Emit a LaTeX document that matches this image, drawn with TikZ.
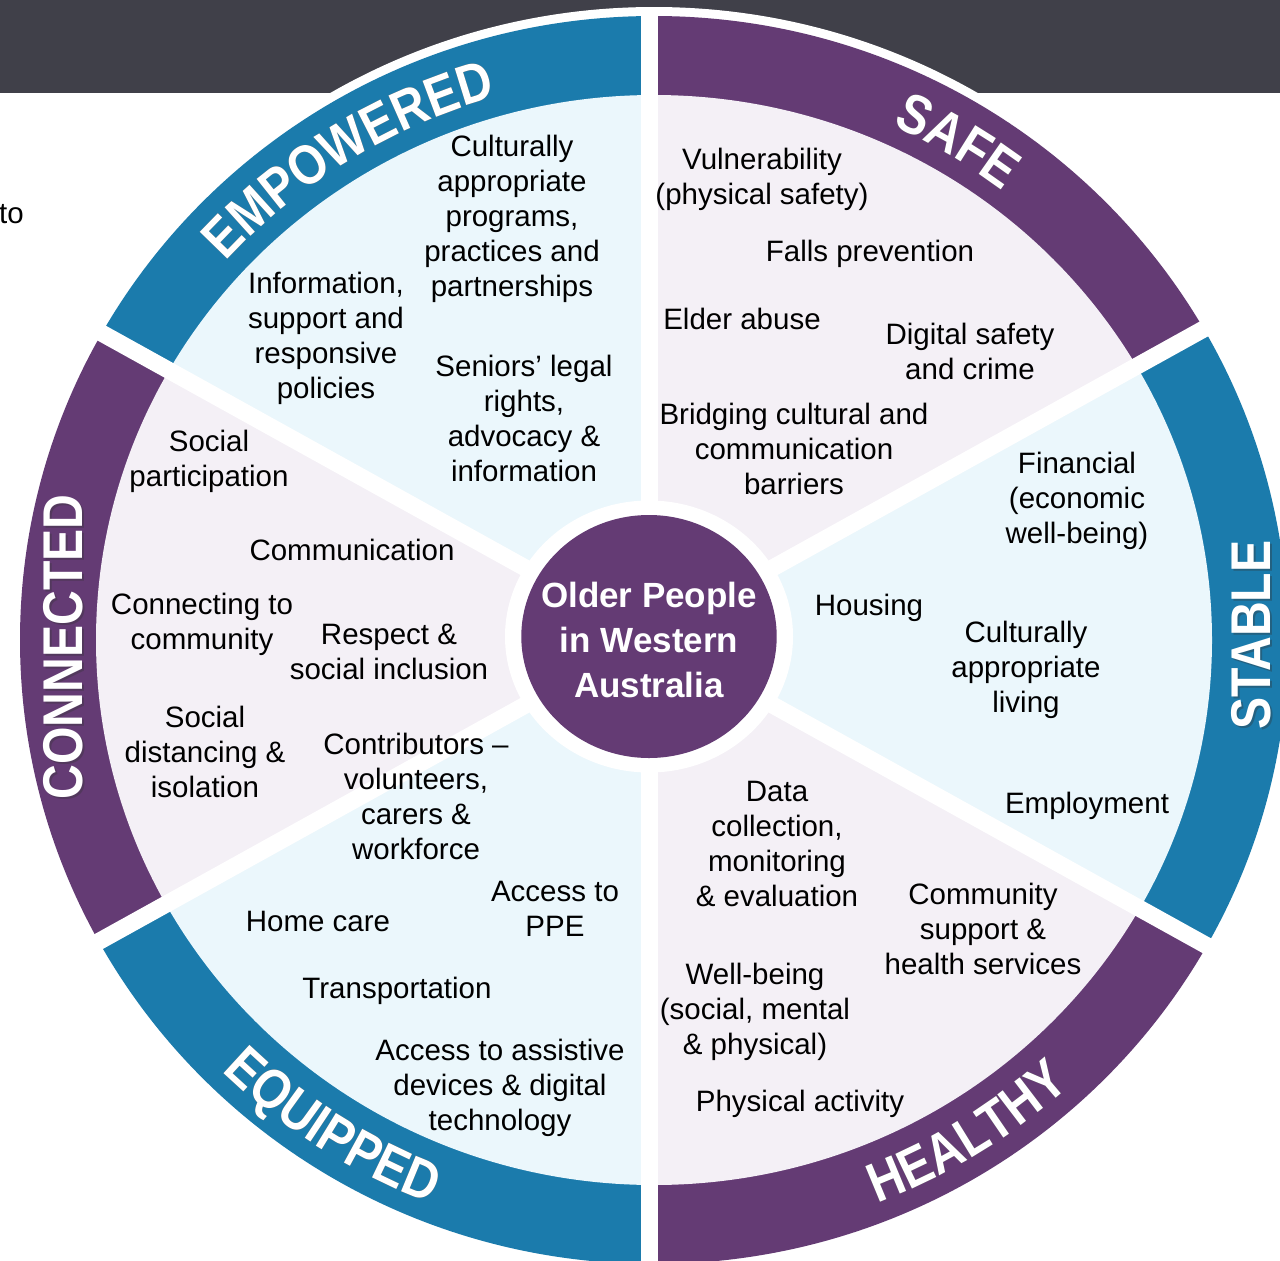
\documentclass[tikz,border=0pt]{standalone}
\usepackage{fontspec}
\setmainfont{Liberation Sans}
\newfontfamily\bandfont[FakeStretch=0.86]{Liberation Sans}
\usetikzlibrary{decorations.text}

\definecolor{ringblue}{RGB}{27,123,172}
\definecolor{ringpurple}{RGB}{100,59,116}
\definecolor{lightblue}{RGB}{235,247,252}
\definecolor{lightpurple}{RGB}{244,240,246}
\definecolor{darkbar}{RGB}{64,64,73}

\newcommand\bandface{\bandfont\bfseries\fontsize{56}{60}\selectfont}

\tikzset{
  item/.style={align=center, font=\fontsize{29.5}{35}\selectfont, inner sep=0pt,
               execute at begin node=\strut, execute at end node=\strut, yshift=-3.5pt},
  band/.style={font=\bandface, text=white, inner sep=0pt},
  bandtext/.style={decorate, decoration={text along path, text align=center, text color=white}},
  bandshadow/.style={decorate, decoration={text along path, text align=center, text color=black!80}, opacity=.35},
}

\begin{document}
\begin{tikzpicture}[x=1pt,y=1pt]
  \useasboundingbox (0,0) rectangle (1280,-1261);
  \coordinate (hub) at (649,-636.5);
  \coordinate (rim) at (654,-640);
  %
  \fill[darkbar] (0,0) rectangle (1280,-93);
  \fill[white] (rim) ellipse [x radius=643pt, y radius=633pt];
  % outer band
  \begin{scope}
    \clip (rim) ellipse [x radius=634pt, y radius=624pt];
    \foreach \a/\b/\c in {29/90/ringpurple,90/151/ringblue,151/209/ringpurple,
                          209/270/ringblue,270/331/ringpurple,331/389/ringblue}
             {\fill[\c] (hub) -- +(\a:1500pt) -- +(\b:1500pt) -- cycle;}
  \end{scope}
  % inner sectors
  \begin{scope}
    \clip (rim) ellipse [x radius=558pt, y radius=545pt];
    \foreach \a/\b/\c in {29/90/lightpurple,90/151/lightblue,151/209/lightpurple,
                          209/270/lightblue,270/331/lightpurple,331/389/lightblue}
             {\fill[\c] (hub) -- +(\a:1500pt) -- +(\b:1500pt) -- cycle;}
  \end{scope}
  % gaps
  \begin{scope}
    \clip (rim) ellipse [x radius=643pt, y radius=633pt];
    \foreach \a in {29,90,151,209,270,331}
             {\draw[white, line width=17pt] (hub) -- +(\a:700pt);}
  \end{scope}
  \fill[white] (hub) ellipse [x radius=144pt, y radius=136pt];
  \fill[ringpurple] (hub) ellipse [x radius=127.7pt, y radius=121.5pt];
  \node[align=center, text=white, inner sep=0pt,
        font=\bfseries\fontsize{35}{45}\selectfont] (hubtext) at (649,-640)
        {Older People\\in Western\\Australia};
  %
  % band labels
  \path[bandshadow, decoration={text={|\bandface|EMPOWERED}}, shift={(2pt,-2pt)}]
    (rim) ++(152:576pt and 564.5pt) arc[start angle=152, end angle=92, x radius=576pt, y radius=564.5pt];
  \path[bandtext, decoration={text={|\bandface|EMPOWERED}}]
    (rim) ++(152:576pt and 564.5pt) arc[start angle=152, end angle=92, x radius=576pt, y radius=564.5pt];
  \path[bandshadow, decoration={text={|\bandface|SAFE}}, shift={(2pt,-2pt)}]
    (rim) ++(89:576pt and 564.5pt) arc[start angle=89, end angle=29, x radius=576pt, y radius=564.5pt];
  \path[bandtext, decoration={text={|\bandface|SAFE}}]
    (rim) ++(89:576pt and 564.5pt) arc[start angle=89, end angle=29, x radius=576pt, y radius=564.5pt];
  \path[bandshadow, decoration={text={|\bandface|HEALTHY}}, shift={(2pt,-2pt)}]
    (rim) ++(-88:616pt and 604.5pt) arc[start angle=-88, end angle=-28, x radius=616pt, y radius=604.5pt];
  \path[bandtext, decoration={text={|\bandface|HEALTHY}}]
    (rim) ++(-88:616pt and 604.5pt) arc[start angle=-88, end angle=-28, x radius=616pt, y radius=604.5pt];
  \path[bandshadow, decoration={text={|\bandface|EQUIPPED}}, shift={(2pt,-2pt)}]
    (rim) ++(207:616pt and 604.5pt) arc[start angle=207, end angle=267, x radius=616pt, y radius=604.5pt];
  \path[bandtext, decoration={text={|\bandface|EQUIPPED}}]
    (rim) ++(207:616pt and 604.5pt) arc[start angle=207, end angle=267, x radius=616pt, y radius=604.5pt];
  \node[band, rotate=90, text=black!80, text opacity=.35] (connectedshade) at (65,-649) {CONNECTED};
  \node[band, rotate=90] (connected) at (63,-647) {CONNECTED};
  \node[band, rotate=90, text=black!80, text opacity=.35] (stableshade) at (1253,-637) {STABLE};
  \node[band, rotate=90] (stable) at (1251,-635) {STABLE};
  %
  % empowered
  \node[item] (cultprog) at (512,-217.5) {Culturally\\appropriate\\programs,\\practices and\\partnerships};
  \node[item] (infopol) at (326,-337) {Information,\\support and\\responsive\\policies};
  \node[item] (legal) at (524,-420.5) {Seniors’ legal\\rights,\\advocacy \&\\information};
  % safe
  \node[item] (vulner) at (762,-178.5) {Vulnerability\\(physical safety)};
  \node[item] (falls) at (870,-251) {Falls prevention};
  \node[item] (elder) at (742,-319) {Elder abuse};
  \node[item] (digital) at (970,-353.5) {Digital safety\\and crime};
  \node[item] (bridging) at (794,-451) {Bridging cultural and\\communication\\barriers};
  % stable
  \node[item] (financial) at (1077,-499.5) {Financial\\(economic\\well-being)};
  \node[item] (housing) at (869,-605) {Housing};
  \node[item] (cultliving) at (1026,-669) {Culturally\\appropriate\\living};
  \node[item] (employ) at (1087,-803) {Employment};
  % healthy
  \node[item] (data) at (777,-845.5) {Data\\collection,\\monitoring\\\& evaluation};
  \node[item] (community) at (983,-931) {Community\\support \&\\health services};
  \node[item] (wellbeing) at (755,-1011) {Well-being\\(social, mental\\\& physical)};
  \node[item] (physical) at (800,-1101) {Physical activity};
  % equipped
  \node[item] (homecare) at (318,-921) {Home care};
  \node[item] (ppe) at (555,-910.5) {Access to\\PPE};
  \node[item] (transport) at (397,-988) {Transportation};
  \node[item] (assistive) at (500,-1087) {Access to assistive\\devices \& digital\\technology};
  % connected
  \node[item] (socpart) at (209,-460.5) {Social\\participation};
  \node[item] (commun) at (352,-550) {Communication};
  \node[item] (connect) at (202,-623.5) {Connecting to\\community};
  \node[item] (respect) at (389,-653.5) {Respect \&\\social inclusion};
  \node[item] (distancing) at (205,-754) {Social\\distancing \&\\isolation};
  \node[item] (contrib) at (416,-798) {Contributors –\\volunteers,\\carers \&\\workforce};
  %
  \node[item, anchor=west] (cutword) at (-1,-213) {to};
\end{tikzpicture}
\end{document}
